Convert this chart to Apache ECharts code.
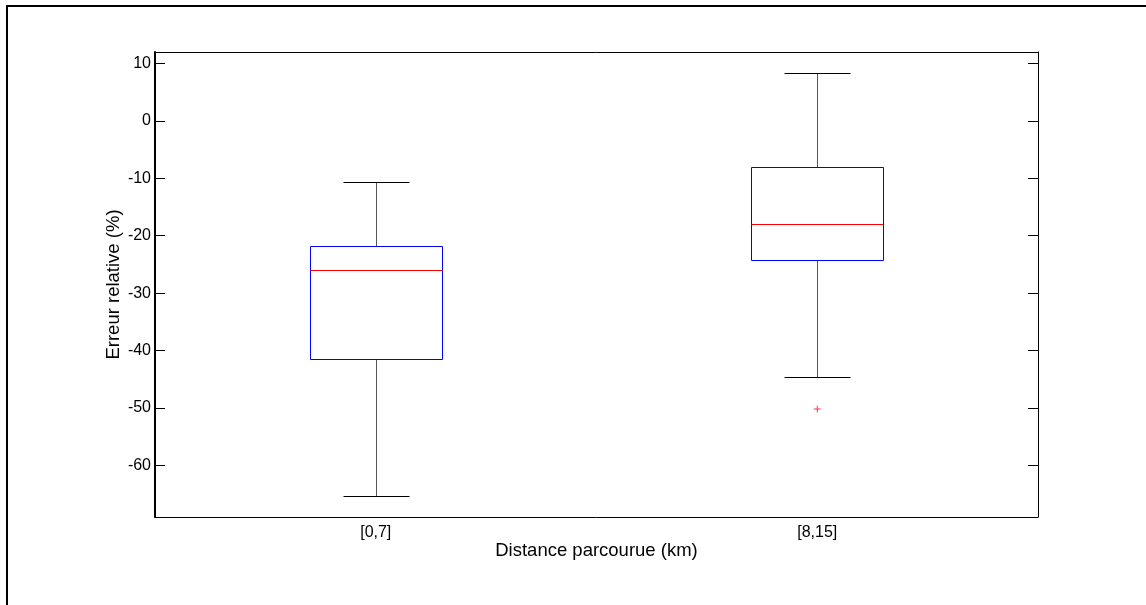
<!DOCTYPE html>
<html>
<head>
<meta charset="utf-8">
<script src="https://cdn.jsdelivr.net/npm/echarts@6/dist/echarts.min.js"></script>
<style>html,body{margin:0;padding:0;background:#fff;}#chart{width:1146px;height:605px;}</style>
</head>
<body>
<div id="chart"></div>
<script>
// ---- data ----
var categories = ['[0,7]', '[8,15]'];
var whiskerLow = [-65.3, -44.6];
var q1 = [-41.4, -24.2];
var median = [-25.95, -17.95];
var q3 = [-21.8, -8.1];
var whiskerHigh = [-10.7, 8.4];
var outliers = [[1, -50.2]];
var yTicks = [10, 0, -10, -20, -30, -40, -50, -60];
var yLabel = 'Erreur relative (%)';
var xLabel = 'Distance parcourue (km)';

var FONT = '"Liberation Sans", Arial, sans-serif';
var chart = echarts.init(document.getElementById('chart'));

var boxData = categories.map(function (c, i) {
  return [i, whiskerLow[i], q1[i], median[i], q3[i], whiskerHigh[i]];
});

function px(v) { return Math.round(v) + 0.5; }

function renderBox(params, api) {
  var idx = api.value(0);
  var band = api.size([1, 0])[0];
  var halfBox = band * 0.15;
  var halfCap = band * 0.075;
  var pLow = api.coord([idx, api.value(1)]);
  var pQ1 = api.coord([idx, api.value(2)]);
  var pMed = api.coord([idx, api.value(3)]);
  var pQ3 = api.coord([idx, api.value(4)]);
  var pHigh = api.coord([idx, api.value(5)]);
  var cx = px(pLow[0]);
  var xl = px(pLow[0] - halfBox), xr = px(pLow[0] + halfBox);
  var cl = px(pLow[0] - halfCap), cr = px(pLow[0] + halfCap);
  var whiskerStyle = { stroke: '#555', lineWidth: 1, fill: null };
  var capStyle = { stroke: '#000', lineWidth: 1, fill: null };
  return {
    type: 'group',
    children: [
      { type: 'line', shape: { x1: cx, y1: px(pHigh[1]), x2: cx, y2: px(pQ3[1]) }, style: whiskerStyle },
      { type: 'line', shape: { x1: cx, y1: px(pQ1[1]), x2: cx, y2: px(pLow[1]) }, style: whiskerStyle },
      { type: 'line', shape: { x1: cl, y1: px(pHigh[1]), x2: cr, y2: px(pHigh[1]) }, style: capStyle },
      { type: 'line', shape: { x1: cl, y1: px(pLow[1]), x2: cr, y2: px(pLow[1]) }, style: capStyle },
      { type: 'rect', shape: { x: xl, y: px(pQ3[1]), width: xr - xl, height: px(pQ1[1]) - px(pQ3[1]) },
        style: { stroke: '#0000ff', lineWidth: 1, fill: null } },
      { type: 'line', shape: { x1: xl, y1: px(pMed[1]), x2: xr, y2: px(pMed[1]) },
        style: { stroke: '#ff0000', lineWidth: 1, fill: null } }
    ]
  };
}

var axisLineStyle = { color: '#000', width: 1 };

chart.setOption({
  animation: false,
  backgroundColor: '#fff',
  textStyle: { fontFamily: FONT },
  graphic: [{
    type: 'rect', left: 6, top: 5, z: -10,
    shape: { x: 0, y: 0, width: 1200, height: 700 },
    style: { stroke: '#000', lineWidth: 2, fill: '#fff' }
  }],
  grid: { left: 155, top: 52, right: 108, bottom: 88, containLabel: false },
  xAxis: [{
    type: 'category', data: categories, position: 'bottom',
    boundaryGap: true,
    axisLine: { onZero: false, lineStyle: axisLineStyle },
    axisTick: { show: false },
    axisLabel: { color: '#000', fontSize: 16, fontFamily: FONT, margin: 8 },
    splitLine: { show: false },
    name: xLabel, nameLocation: 'middle', nameGap: 24, nameMoveOverlap: false,
    nameTextStyle: { color: '#000', fontSize: 18.5, fontFamily: FONT }
  }, {
    type: 'category', data: categories, position: 'top',
    axisLine: { onZero: false, lineStyle: axisLineStyle },
    axisTick: { show: false }, axisLabel: { show: false }
  }],
  yAxis: [{
    type: 'value', min: -69, max: 12, position: 'left',
    axisLine: { show: true, onZero: false, lineStyle: { color: '#000', width: 2 } },
    axisTick: { show: true, inside: true, length: 10, customValues: yTicks, lineStyle: { color: '#000' } },
    axisLabel: { color: '#000', fontSize: 16, fontFamily: FONT, margin: 4, customValues: yTicks },
    splitLine: { show: false },
    name: yLabel, nameLocation: 'middle', nameGap: 32, nameRotate: 90, nameMoveOverlap: false,
    nameTextStyle: { color: '#000', fontSize: 18.5, fontFamily: FONT }
  }, {
    type: 'value', min: -69, max: 12, position: 'right',
    axisLine: { show: true, onZero: false, lineStyle: axisLineStyle },
    axisTick: { show: true, inside: true, length: 10, customValues: yTicks, lineStyle: { color: '#000' } },
    axisLabel: { show: false },
    splitLine: { show: false }
  }],
  series: [{
    type: 'custom',
    xAxisIndex: 0, yAxisIndex: 0,
    renderItem: renderBox,
    encode: { x: 0, y: [1, 2, 3, 4, 5] },
    data: boxData,
    z: 5
  }, {
    type: 'scatter',
    xAxisIndex: 0, yAxisIndex: 0,
    data: outliers,
    symbol: 'path://M0,2.6H6V3.4H0Z M2.6,0H3.4V6H2.6Z',
    symbolSize: 7,
    itemStyle: { color: '#ff0000' },
    z: 6
  }]
});
</script>
</body>
</html>
